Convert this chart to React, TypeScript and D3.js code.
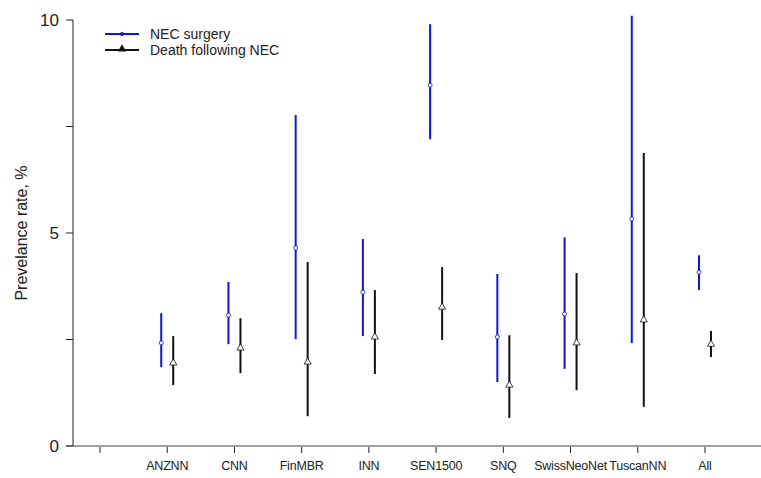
import React from 'react';
import * as d3 from 'd3';

const categories = ['', 'ANZNN', 'CNN', 'FinMBR', 'INN', 'SEN1500', 'SNQ', 'SwissNeoNet', 'TuscanNN', 'All'];

// NEC surgery: estimate, lower, upper
const surgeryEst = [null, 2.42, 3.07, 4.65, 3.61, 8.47, 2.56, 3.1, 5.33, 4.08];
const surgeryLow = [null, 1.85, 2.39, 2.51, 2.58, 7.2, 1.5, 1.81, 2.42, 3.66];
const surgeryHigh = [null, 3.12, 3.85, 7.77, 4.86, 9.9, 4.04, 4.9, 10.1, 4.48];

// Death following NEC
const deathEst = [null, 1.95, 2.3, 1.97, 2.56, 3.26, 1.43, 2.42, 2.96, 2.39];
const deathLow = [null, 1.43, 1.71, 0.7, 1.69, 2.49, 0.66, 1.31, 0.92, 2.09];
const deathHigh = [null, 2.58, 3.0, 4.32, 3.66, 4.2, 2.6, 4.06, 6.88, 2.7];

const yTicks = [0, 2.5, 5, 7.5, 10];
const yLabels = ['0', '', '5', '', '10'];

const W = 761;
const H = 478;
const font = 'Liberation Sans, Arial, Helvetica, sans-serif';

export default function App() {
  const x = d3.scalePoint<string>()
    .domain(categories.map((c, i) => i + ':' + c))
    .range([100, 705]);
  const y = d3.scaleLinear().domain([0, 10]).range([446, 20]);
  const axisLeft = 73;

  const series = [
    { name: 'NEC surgery', color: '#1010f0', est: surgeryEst, low: surgeryLow, high: surgeryHigh, dx: -6, marker: 'circle' },
    { name: 'Death following NEC', color: '#111', est: deathEst, low: deathLow, high: deathHigh, dx: 6, marker: 'triangle' },
  ];

  const tri = d3.symbol().type(d3.symbolTriangle).size(22)();
  const triLegend = d3.symbol().type(d3.symbolTriangle).size(30)();

  return (
    <svg width={W} height={H} style={{ position: 'absolute', left: 0, top: 0, background: '#fff' }}>
      {/* y axis */}
      <line x1={axisLeft} x2={axisLeft} y1={y(10)} y2={y(0)} stroke="#222" strokeWidth={1} />
      {yTicks.map((t, i) => (
        <g key={t}>
          <line x1={axisLeft - 7} x2={axisLeft} y1={y(t)} y2={y(t)} stroke="#222" />
          {yLabels[i] && (
            <text x={axisLeft - 14} y={y(t)} dy="0.35em" textAnchor="end" fontFamily={font} fontSize={17} fill="#222">
              {yLabels[i]}
            </text>
          )}
        </g>
      ))}
      <text transform={`translate(27,${y(5)}) rotate(-90)`} textAnchor="middle" fontFamily={font} fontSize={16} fill="#222">
        Prevelance rate, %
      </text>

      {/* x axis */}
      <line x1={axisLeft - 7} x2={W} y1={y(0)} y2={y(0)} stroke="#444" strokeWidth={1} />
      {categories.map((c, i) => {
        const cx = x(i + ':' + c)!;
        return (
          <g key={i}>
            <line x1={cx} x2={cx} y1={y(0) + 1} y2={y(0) + 7} stroke="#222" />
            <text x={cx} y={470} textAnchor="middle" fontFamily={font} fontSize={12.5} letterSpacing={-0.2} fill="#222">{c}</text>
          </g>
        );
      })}

      {/* error bars */}
      {series.map(s => (
        <g key={s.name}>
          {categories.map((c, i) => {
            if (s.est[i] == null) return null;
            const cx = x(i + ':' + c)! + s.dx;
            return (
              <g key={i}>
                <line x1={cx} x2={cx} y1={y(s.low[i]!)} y2={y(s.high[i]!)} stroke={s.color} strokeWidth={2} />
                {s.marker === 'circle' ? (
                  <circle cx={cx} cy={y(s.est[i]!)} r={2} fill="#fff" stroke={s.color} strokeWidth={0.8} />
                ) : (
                  <path d={tri} transform={`translate(${cx},${y(s.est[i]!)})`} fill="#fff" stroke={s.color} strokeWidth={0.8} />
                )}
              </g>
            );
          })}
        </g>
      ))}

      {/* legend */}
      {series.map((s, i) => {
        const ly = 34 + i * 16;
        return (
          <g key={s.name}>
            <line x1={105} x2={139} y1={ly} y2={ly} stroke={s.color} strokeWidth={2} />
            {s.marker === 'circle' ? (
              <circle cx={122} cy={ly} r={2} fill={s.color} />
            ) : (
              <path d={triLegend} transform={`translate(122,${ly - 1})`} fill={s.color} />
            )}
            <text x={150} y={ly} dy="0.35em" fontFamily={font} fontSize={14} fill="#222">{s.name}</text>
          </g>
        );
      })}
    </svg>
  );
}
